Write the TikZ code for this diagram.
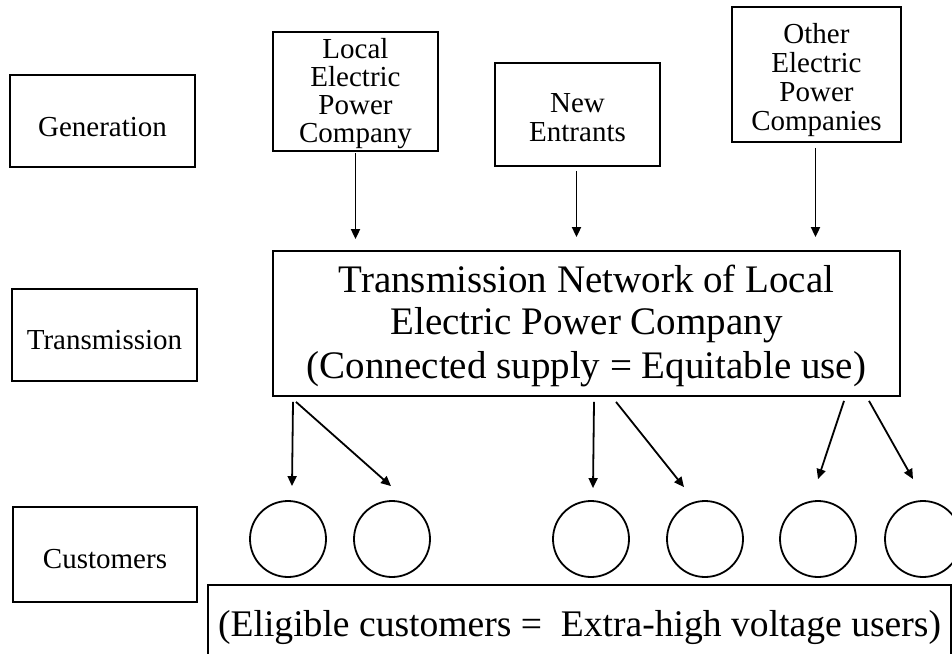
\documentclass[tikz,border=0pt]{standalone}
\usepackage{fontspec}
\setmainfont{Liberation Serif}
\usetikzlibrary{arrows.meta,calc}

% pushes the first line of a box down a little
\newcommand{\boxlift}[1][16pt]{\rule{0pt}{#1}}

\begin{document}
\begin{tikzpicture}[x=0.5pt,y=-0.5pt,
	base/.style={shape=rectangle,draw=black,line width=0.9pt,inner sep=0pt,align=center},
	box/.style={base,font=\fontsize{14.5}{14.5}\selectfont},
	bigbox/.style={base,font=\fontsize{19.5}{21}\selectfont},
	eligbox/.style={base,font=\fontsize{18.8}{20}\selectfont},
	cust/.style={shape=circle,draw=black,line width=0.9pt,minimum size=38pt,inner sep=0pt},
	feed/.style={-{Triangle[length=5pt,width=4.5pt]},line width=0.9pt}]

		\useasboundingbox (0,0) rectangle (952,653);

		% levels
		\node[box,minimum width=92.5pt,minimum height=46pt]   (gen)   at (102.5,121)   {\boxlift Generation};
		\node[box,minimum width=92.5pt,minimum height=46pt]   (trans) at (104.5,335)   {\boxlift[15pt]Transmission};
		\node[box,minimum width=92pt,minimum height=47.5pt]   (cus)   at (105,554.5)   {\boxlift[14pt]Customers};

		% generators
		\node[box,font=\fontsize{14.5}{14}\selectfont,minimum width=82.5pt,minimum height=59.5pt] (local) at (355.5,91.5) {\boxlift[12pt]Local\\Electric\\Power\\Company};
		\node[box,minimum width=82.5pt,minimum height=51.5pt] (newent) at (577.5,114.5) {\boxlift[13pt]New\\Entrants};
		\node[box,minimum width=84.5pt,minimum height=67.5pt] (other)  at (816.5,74.5)  {\boxlift Other\\Electric\\Power\\Companies};

		% network
		\node[bigbox,minimum width=313.5pt,minimum height=72.5pt] (net) at (586.5,323.5)
			{\boxlift[16.5pt]Transmission Network of Local\\Electric Power Company\\[1pt](Connected supply = Equitable use)};

		% customers
		\node[cust] (c1) at (288,539) {};
		\node[cust] (c2) at (392,539) {};
		\node[cust] (c3) at (591,539) {};
		\node[cust] (c4) at (705,539) {};
		\node[cust] (c5) at (818,539) {};
		\node[cust] (c6) at (923,539) {};

		\node[eligbox,minimum width=371.5pt,minimum height=37.5pt] (elig) at (579.5,622.5)
			{\boxlift[18pt](Eligible customers =~ Extra-high voltage users)};

		\path[feed] ($(local.south)+(0,1)$)   edge ($(local.south |- net.north)+(0,-11)$);
		\path[feed] ($(newent.south)+(-1,4)$) edge ($(newent.south |- net.north)+(-1,-13)$);
		\path[feed] ($(other.south)+(-1,5)$)  edge ($(other.south |- net.north)+(-1,-13)$);

		\path[feed] ($(net.south -| c1)+(5,5)$)  edge ($(c1.north)+(4,-14)$);
		\path[feed] ($(net.south -| c1)+(8,5)$)  edge ($(c2.north)+(-1,-14)$);
		\path[feed] ($(net.south -| c3)+(3,5)$)  edge ($(c3.north)+(2,-12)$);
		\path[feed] ($(net.south -| c3)+(25,5)$) edge ($(c4.north)+(-21,-13)$);
		\path[feed] ($(net.south -| c5)+(26,4)$) edge ($(c5.north)+(0,-21)$);
		\path[feed] ($(net.south -| c5)+(51,4)$) edge ($(c6.north)+(-10,-21)$);

		\end{tikzpicture}
\end{document}
